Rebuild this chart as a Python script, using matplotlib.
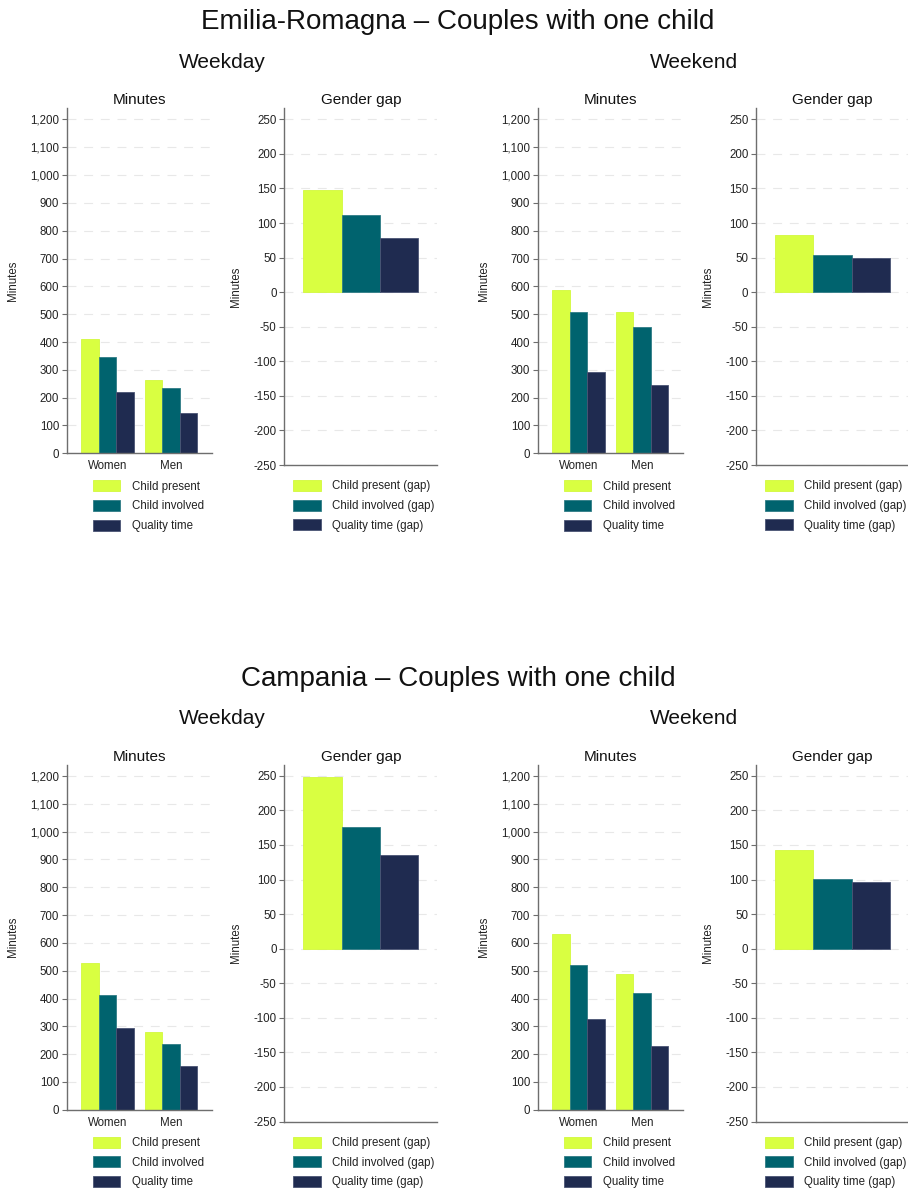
import matplotlib
matplotlib.use("Agg")
import matplotlib.pyplot as plt
from matplotlib.patches import Patch
from matplotlib.ticker import FuncFormatter
import numpy as np

plt.rcParams['font.family'] = ['Liberation Sans', 'DejaVu Sans']

# ---- data ----
regions = ["Emilia-Romagna", "Campania"]
periods = ["Weekday", "Weekend"]
sexes = ["Women", "Men"]
series = ["Child present", "Child involved", "Quality time"]
gap_series = ["Child present (gap)", "Child involved (gap)", "Quality time (gap)"]

# minutes per day: [Women, Men] for each series
er_weekday_present = [412, 263]
er_weekday_involved = [347, 235]
er_weekday_quality = [221, 144]
er_weekend_present = [588, 507]
er_weekend_involved = [509, 454]
er_weekend_quality = [293, 245]

ca_weekday_present = [528, 280]
ca_weekday_involved = [411, 235]
ca_weekday_quality = [295, 158]
ca_weekend_present = [631, 487]
ca_weekend_involved = [521, 420]
ca_weekend_quality = [327, 229]

# gender gap (women minus men), minutes
er_weekday_gap = [148, 112, 78]
er_weekend_gap = [82, 54, 49]
ca_weekday_gap = [248, 176, 136]
ca_weekend_gap = [143, 101, 97]

minutes_ticks = list(range(0, 1201, 100))
gap_ticks = list(range(-250, 251, 50))

colors = ["#D9FF41", "#00636E", "#1F2B50"]
edges = ["#D2F83E", "#2F7C86", "#4A5474"]

W, H = 908, 1192
fig = plt.figure(figsize=(W / 100, H / 100), dpi=100)


def add_px_axes(x0, y0, x1, y1):
    return fig.add_axes([x0 / W, 1 - y1 / H, (x1 - x0) / W, (y1 - y0) / H])


def style_axes(ax, ticks):
    for side in ("top", "right"):
        ax.spines[side].set_visible(False)
    for side in ("left", "bottom"):
        ax.spines[side].set_color("#6E6E6E")
        ax.spines[side].set_linewidth(1.0)
    ax.set_yticks(ticks)
    ax.yaxis.set_major_formatter(FuncFormatter(lambda v, p: f"{int(v):,}"))
    ax.tick_params(axis="y", length=3.5, width=0.8, color="#6E6E6E",
                   labelsize=8.3, labelcolor="#222222", pad=2)
    ax.grid(axis="y", color="#E8E8E8", linestyle=(0, (8, 7)), linewidth=0.8)
    ax.set_axisbelow(True)
    ax.set_ylabel("Minutes", fontsize=8.3, color="#222222", labelpad=8)


def legend(ax, labels, x_px, y_px):
    handles = [Patch(facecolor=c, edgecolor=e, linewidth=0.6)
               for c, e in zip(colors, edges)]
    ax.legend(handles, labels, loc="upper left",
              bbox_to_anchor=(x_px / W, 1 - y_px / H),
              bbox_transform=fig.transFigure, frameon=False,
              fontsize=8.3, handlelength=2.4, handleheight=1.1,
              handletextpad=1.0, labelspacing=0.62, borderaxespad=0,
              borderpad=0, labelcolor="#222222")


def minutes_panel(x0, x1, y0, y1, vals, title):
    ax = add_px_axes(x0, y0, x1, y1)
    groups = np.array([0.0, 1.0])
    w = 0.2737
    for i, v in enumerate(vals):
        ax.bar(groups + (i - 1) * w, v, width=w, color=colors[i],
               edgecolor=edges[i], linewidth=0.6)
    ax.set_xlim(-0.5 * 3 * w - 0.228, 1 + 0.5 * 3 * w + 0.228)
    ax.set_ylim(0, 1240)
    style_axes(ax, minutes_ticks)
    ax.set_xticks(groups)
    ax.set_xticklabels(sexes)
    ax.tick_params(axis="x", length=0, labelsize=8.3, labelcolor="#222222", pad=5)
    ax.set_title(title, fontsize=11, color="#111111", pad=3)
    legend(ax, series, x0 + 26, y1 + 27)
    return ax


def gap_panel(x0, x1, y0, y1, vals, title):
    ax = add_px_axes(x0, y0, x1, y1)
    pos = np.arange(3)
    ax.bar(pos, vals, width=1.0, color=colors, edgecolor=edges, linewidth=0.6)
    ax.set_xlim(-1, 3)
    ax.set_ylim(-250, 266)
    style_axes(ax, gap_ticks)
    ax.set_xticks([])
    ax.set_title(title, fontsize=11, color="#111111", pad=3)
    legend(ax, gap_series, x0 + 9, y1 + 15)
    return ax


def block(top, name, data):
    # top: pixel row where this region's block starts
    fig.text(458 / W, 1 - (top + 22) / H, f"{name} – Couples with one child",
             ha="center", va="center", fontsize=20, color="#111111")
    fig.text(222 / W, 1 - (top + 62) / H, "Weekday", ha="center", va="center",
             fontsize=15, color="#111111")
    fig.text(694 / W, 1 - (top + 62) / H, "Weekend", ha="center", va="center",
             fontsize=15, color="#111111")
    ay0 = top + 108.3
    (wd_m, wd_g), (we_m, we_g) = data
    minutes_panel(66.7, 211.7, ay0, ay0 + 345, wd_m, "Minutes")
    gap_panel(284.3, 437.3, ay0, ay0 + 356.7, wd_g, "Gender gap")
    minutes_panel(537.7, 682.7, ay0, ay0 + 345, we_m, "Minutes")
    gap_panel(756, 909, ay0, ay0 + 356.7, we_g, "Gender gap")


block(0, regions[0], [
    ([er_weekday_present, er_weekday_involved, er_weekday_quality], er_weekday_gap),
    ([er_weekend_present, er_weekend_involved, er_weekend_quality], er_weekend_gap),
])
block(656.5, regions[1], [
    ([ca_weekday_present, ca_weekday_involved, ca_weekday_quality], ca_weekday_gap),
    ([ca_weekend_present, ca_weekend_involved, ca_weekend_quality], ca_weekend_gap),
])

fig.savefig("out.png", dpi=100, facecolor="white")
